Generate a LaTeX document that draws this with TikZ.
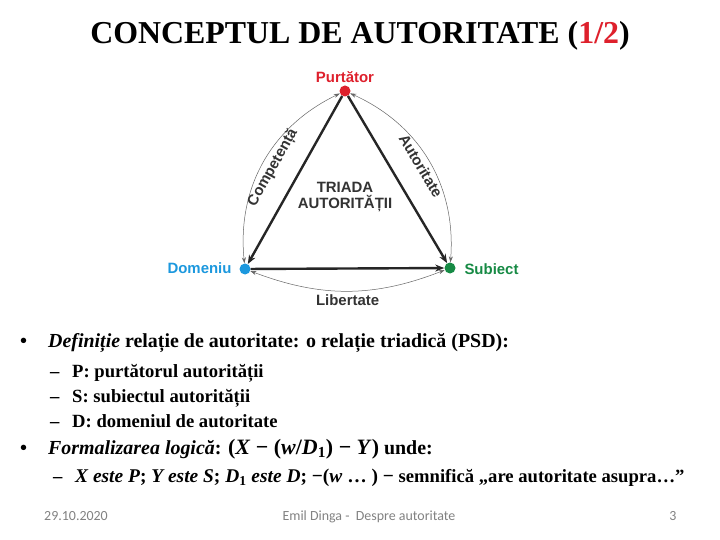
\documentclass[tikz,border=0pt]{standalone}
\usepackage{fontspec}
\setmainfont{Liberation Serif}
\newfontfamily\arialf{Liberation Sans}
\newfontfamily\calibrif{Carlito}
\usetikzlibrary{arrows.meta}

\definecolor{portred}{RGB}{222,32,44}
\definecolor{domblue}{RGB}{28,152,222}
\definecolor{subgreen}{RGB}{22,138,68}
\definecolor{footgray}{RGB}{130,130,130}

\tikzset{
  vertex/.style={circle, inner sep=0pt, minimum size=11bp},
  tri/.style={line width=2.4bp, black!85, -{Stealth[length=9bp,width=7bp]}},
  relarc/.style={line width=0.5bp, black!60, {Stealth[length=6bp,width=4bp]}-{Stealth[length=6bp,width=4bp]}},
  sansb/.style={font=\arialf\bfseries\fontsize{15}{17}\selectfont},
  body/.style={anchor=base west, inner sep=0pt, font=\bfseries\fontsize{20}{22}\selectfont},
  subbody/.style={body, font=\bfseries\fontsize{18.7}{21}\selectfont},
  foot/.style={anchor=base, inner sep=0pt, text=footgray, font=\calibrif\fontsize{14}{16}\selectfont},
}

\begin{document}
\begin{tikzpicture}[x=1bp,y=-1bp]
    \useasboundingbox[fill=white] (0,0) rectangle (720,540);

    % title
    \node[anchor=base, inner sep=0pt, font=\bfseries\fontsize{32}{36}\selectfont] (title) at (360,44)
        {CONCEPTUL DE AUTORITATE (\textcolor{portred}{1/2})};

    % the triad
    \node[vertex, fill=portred] (P) at (345,91) {};
    \node[vertex, fill=domblue] (D) at (245,269) {};
    \node[vertex, fill=subgreen] (S) at (450,268) {};
    \node[sansb, text=portred, anchor=base] (Plab) at (345,83) {Purtător};
    \node[sansb, text=domblue, anchor=base east] (Dlab) at (235,274) {Domeniu};
    \node[sansb, text=subgreen, anchor=base west] (Slab) at (461,275) {Subiect};
    \node[sansb, text=black!80, align=center] (triad) at (345,197) {TRIADA\\AUTORITĂȚII};

    \draw[tri] (P) -- (D);
    \draw[tri] (P) -- (S);
    \draw[tri] (D) -- (S);

    \draw[relarc] (P) to[bend right=35] node[midway, sloped, below, sansb, text=black!80] {Competență} (D);
    \draw[relarc] (P) to[bend left=35] node[midway, sloped, below, sansb, text=black!80] {Autoritate} (S);
    \draw[relarc] (D) to[bend right=21] node[midway, below, sansb, text=black!80] {Libertate} (S);

    % text of the slide
    \node[body] (b1) at (20,347) {•};
    \node[body] (def) at (48,347) {\textit{Definiție} relație de autoritate: o relație triadică (PSD):};
    \node[subbody] (d1) at (50,377) {–};
    \node[subbody] (p) at (72,377) {P: purtătorul autorității};
    \node[subbody] (d2) at (50,402) {–};
    \node[subbody] (s) at (72,402) {S: subiectul autorității};
    \node[subbody] (d3) at (50,427) {–};
    \node[subbody] (d) at (72,427) {D: domeniul de autoritate};
    \node[body] (b2) at (20,454) {•};
    \node[body] (form) at (48,454) {\textit{Formalizarea logică}: {\fontsize{22}{24}\selectfont(\textit{X} − (\textit{w}/\textit{D}\textsubscript{1}) − \textit{Y})} unde:};
    \node[subbody] (d4) at (53,482) {–};
    \node[subbody] (sem) at (75,482) {{\fontsize{19.5}{22}\selectfont\textit{X este P}; \textit{Y este S}; \textit{D}\textsubscript{1} \textit{este D}; −(\textit{w} … ) −} semnifică „are autoritate asupra…”};

    % footer
    \node[foot] (date) at (76,520) {29.10.2020};
    \node[foot] (auth) at (369,520) {Emil Dinga -\ \ Despre autoritate};
    \node[foot] (num) at (673,520) {3};
\end{tikzpicture}
\end{document}
